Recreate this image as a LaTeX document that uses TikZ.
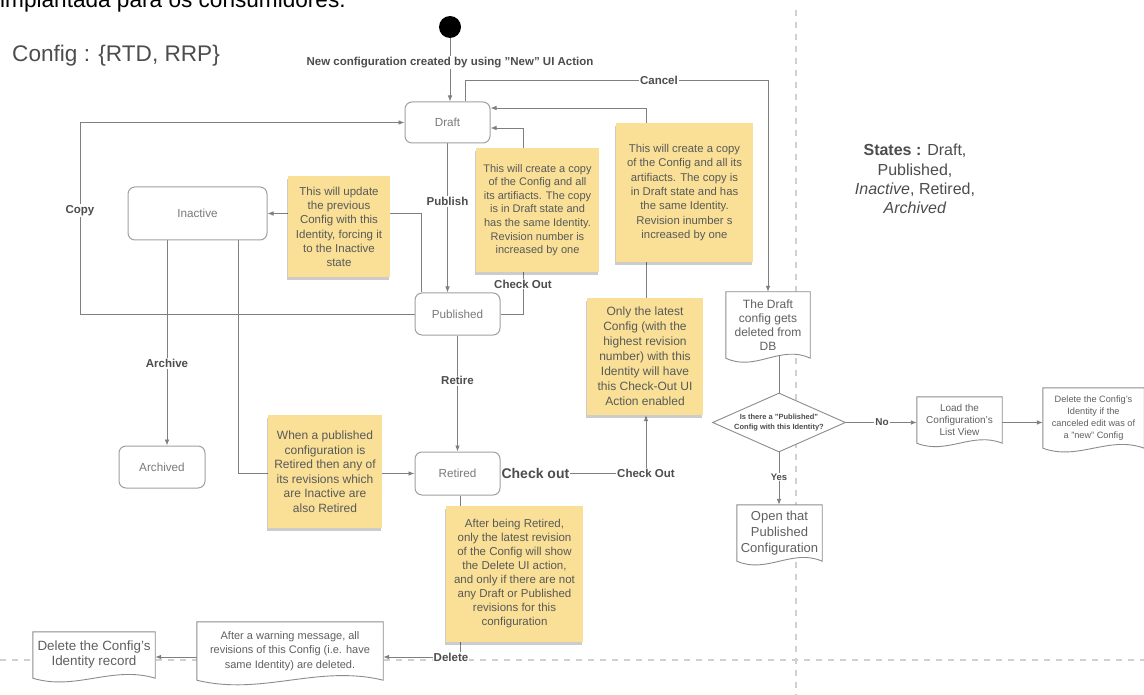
\documentclass[tikz,border=0pt]{standalone}
\usepackage{fontspec}
\setmainfont{Liberation Sans}
\usetikzlibrary{arrows.meta,calc,shapes.geometric,shadows}
\pgfdeclarelayer{bg}\pgfdeclarelayer{lines}\pgfdeclarelayer{shapes}
\pgfsetlayers{bg,lines,shapes,main}
\definecolor{lineGray}{HTML}{7F7F7F}
\definecolor{stateBorder}{HTML}{A0A0A0}
\definecolor{stateText}{HTML}{7A7A7A}
\definecolor{lblText}{HTML}{4D4D4D}
\definecolor{noteFill}{RGB}{249,224,150}
\definecolor{noteText}{HTML}{595959}
\definecolor{sepGray}{HTML}{D0D0D0}
\definecolor{docBorder}{HTML}{8C8C8C}
\definecolor{docText}{HTML}{606060}
\newcommand\fsz[2]{\fontsize{#1}{#2}\selectfont}
\newcommand\dq{\symbol{34}}
\newcommand\sq{\symbol{39}}
\tikzset{
 statebox/.style={draw=stateBorder, line width=1pt, rounded corners=7pt, fill=white, text=stateText, font=\fsz{11.7}{14}, inner sep=0},
 notebox/.style={fill=noteFill, text=noteText, align=center, inner sep=0, drop shadow={shadow xshift=-1.5pt, shadow yshift=-3pt, opacity=0.2, fill=black}},
 lbl/.style={font=\bfseries\fsz{11.5}{13}, text=lblText, fill=white, inner sep=1pt},
 conn/.style={draw=lineGray, line width=0.9pt},
 arr/.style={conn, -{Latex[length=6pt,width=4.6pt]}},
 docnode/.style={align=center, inner sep=0, text=docText},
 docline/.style={draw=docBorder, line width=0.9pt, fill=white},
 sepline/.style={draw=sepGray, line width=1.3pt, dash pattern=on 6pt off 6pt},
}
\newcommand\docoutline[2]{%
 \begin{pgfonlayer}{shapes}
 \draw[docline] (#1.south east) -- (#1.north east) -- (#1.north west) -- (#1.south west)
  .. controls ($(#1.south west)!0.35!(#1.south east)+(0,#2)$) and ($(#1.south west)!0.65!(#1.south east)+(0,-#2)$) .. (#1.south east) -- cycle;
 \end{pgfonlayer}}
\begin{document}
\begin{tikzpicture}[x=1pt,y=-1pt]
\useasboundingbox (0,0) rectangle (1144,695);
\begin{pgfonlayer}{bg}\fill[white] (0,0) rectangle (1144,695);\end{pgfonlayer}

% texts
\node[anchor=base west, inner sep=0, font=\fsz{22.6}{26}] (topTxt) at (0,8) {implantada para os consumidores.};
\node[anchor=west, inner sep=0, text=lblText, font=\fsz{22.6}{26}] (title) at (12,56) {Config : \{RTD, RRP\}};
\node[align=center, text=lblText, font=\fsz{16}{19.3}] (states) at (915,179) {\textbf{States :} Draft,\\Published,\\\textit{Inactive}, Retired,\\\textit{Archived}};

% start
\node[circle, fill=black, inner sep=0, minimum size=22] (start) at (450,27) {};

% states
\node[statebox, minimum width=85, minimum height=41] (draft) at (447.5,122.5) {Draft};
\node[statebox, minimum width=85, minimum height=42] (pub) at (457.5,314) {Published};
\node[statebox, minimum width=139, minimum height=53] (inact) at (197.5,213.5) {Inactive};
\node[statebox, minimum width=86, minimum height=42] (arch) at (162,467) {Archived};
\node[statebox, minimum width=85, minimum height=43] (ret) at (457.5,473.5) {Retired};

% notes
\node[notebox, minimum width=102, minimum height=101, font=\fsz{11.5}{14.3}] (nInact) at (339,227) {This will update\\the previous\\Config with this\\Identity, forcing it\\to the Inactive\\state};
\node[notebox, minimum width=123, minimum height=124, font=\fsz{11}{13.6}] (nCopy1) at (537.5,210) {This will create a copy\\of the Config and all\\its artifiacts. The copy\\is in Draft state and\\has the same Identity.\\Revision number is\\increased by one};
\node[notebox, minimum width=137, minimum height=139, font=\fsz{11.3}{14.3}] (nCopy2) at (684.5,192.5) {This will create a copy\\of the Config and all its\\artifiacts. The copy is\\in Draft state and has\\the same Identity.\\Revision inumber s\\increased by one};
\node[notebox, minimum width=116, minimum height=117, font=\fsz{12}{15}] (nLatest) at (645,356.5) {Only the latest\\Config (with the\\highest revision\\number) with this\\Identity will have\\this Check-Out UI\\Action enabled};
\node[notebox, minimum width=114, minimum height=113, font=\fsz{12}{14.5}] (nRet) at (325,471.5) {When a published\\configuration is\\Retired then any of\\its revisions which\\are Inactive are\\also Retired};
\node[notebox, minimum width=137, minimum height=136, font=\fsz{11.5}{14}] (nDel) at (514.5,574) {After being Retired,\\only the latest revision\\of the Config will show\\the Delete UI action,\\and only if there are not\\any Draft or Published\\revisions for this\\configuration};

% documents
\node[docnode, minimum width=84, minimum height=66, font=\fsz{12}{14}] (dDB) at (768,325) {The Draft\\config gets\\deleted from\\DB};
\node[docnode, minimum width=85, minimum height=46, font=\fsz{10}{12}] (dLoad) at (959.5,420) {Load the\\Configuration\sq s\\List View};
\node[docnode, minimum width=101, minimum height=60, font=\fsz{9.2}{11.8}] (dDelId) at (1093.5,418) {Delete the Config\sq s\\Identity if the\\canceled edit was of\\a \dq new\dq{} Config};
\node[docnode, minimum width=85, minimum height=56, font=\fsz{13}{15.7}] (dOpen) at (779.5,533) {Open that\\Published\\Configuration};
\node[docnode, minimum width=186, minimum height=58, font=\fsz{11}{14.2}] (dWarn) at (290,651) {After a warning message, all\\revisions of this Config (i.e. have\\same Identity) are deleted.};
\node[docnode, minimum width=122, minimum height=46, font=\fsz{13.4}{15}] (dRec) at (94,655) {Delete the Config\sq s\\Identity record};
\docoutline{dDB}{14}
\docoutline{dLoad}{12}
\docoutline{dDelId}{13}
\docoutline{dOpen}{13}
\docoutline{dWarn}{16}
\docoutline{dRec}{13}

% decision
\node[diamond, draw=docBorder, line width=0.9pt, fill=white, aspect=2.25, minimum width=133, minimum height=59, inner sep=0, align=center, font=\bfseries\fsz{7.5}{9.5}, text=lblText] (dia) at (779,422.5) {Is there a \dq Published\dq\\Config with this Identity?};

% helper coordinates
\coordinate (cancelTop) at (465,80);
\coordinate (cancelR) at (768,80);
\coordinate (coX) at (523,0);
\coordinate (coY) at (0,128);
\coordinate (cnY) at (0,108);
\coordinate (lx) at (646,0);
\coordinate (cpX) at (80,0);
\coordinate (piX) at (421,0);
\coordinate (aX) at (167,0);
\coordinate (irX) at (238,0);
\coordinate (dX) at (460,0);
\coordinate (dY) at (0,657);
\coordinate (vT) at (796,10);
\coordinate (vB) at (796,695);
\coordinate (hL) at (0,660);
\coordinate (hR) at (1144,660);

\begin{pgfonlayer}{lines}
\draw[sepline] (vT) -- (vB);
\draw[sepline] (hL) -- (hR);

\draw[arr] (start) -- node[lbl,pos=0.39]{New configuration created by using \dq New\dq{} UI Action} (draft.north -| start);
\draw[arr] (cancelTop |- draft.north) -- (cancelTop) -- node[lbl,pos=0.64]{Cancel} (cancelR) -- (dDB.north);
\draw[arr] (draft.south) -- node[lbl,pos=0.39]{Publish} (draft.south |- pub.north);
\draw[arr] (pub.south) -- node[lbl,pos=0.39]{Retire} (ret.north);
\draw[arr] (pub.east) -| node[lbl,pos=0.58]{Check Out} (coX |- coY) -- (draft.east |- coY);
\draw[arr] (ret.east) -- node[lbl, font=\bfseries\fsz{14}{16}, pos=0.24]{Check out} (lx |- ret.east) node[lbl]{Check Out} -- (lx |- nLatest.south);
\draw[conn] (lx |- nLatest.north) -- (lx |- nCopy2.south);
\draw[arr] (lx |- nCopy2.north) |- (draft.east |- cnY);
\draw[arr] (pub.west) -| node[lbl,pos=0.77]{Copy} (cpX |- draft.west) -- (draft.west);
\draw[arr] (piX |- pub.north) |- (inact.east);
\draw[arr] (aX |- inact.south) -- node[lbl,pos=0.6]{Archive} (aX |- arch.north);
\draw[arr] (irX |- inact.south) |- (ret.west);
\draw[arr] (dX |- ret.south) |- node[lbl,pos=0.5,xshift=-9]{Delete} (dWarn.east |- dY);
\draw[arr] (dWarn.west |- dY) -- (dRec.east |- dY);

\draw[conn] (dia.north |- dDB.center) -- (dia.north);
\draw[arr] (dia.east) -- node[lbl,font=\bfseries\fsz{10}{12},pos=0.51]{No} (dia.east -| dLoad.west);
\draw[arr] (dLoad.east |- dia.east) -- (dDelId.west |- dia.east);
\draw[arr] (dia.south) -- node[lbl,font=\bfseries\fsz{9.5}{11},pos=0.47]{Yes} (dOpen.north -| dia.south);
\end{pgfonlayer}
\end{tikzpicture}
\end{document}
